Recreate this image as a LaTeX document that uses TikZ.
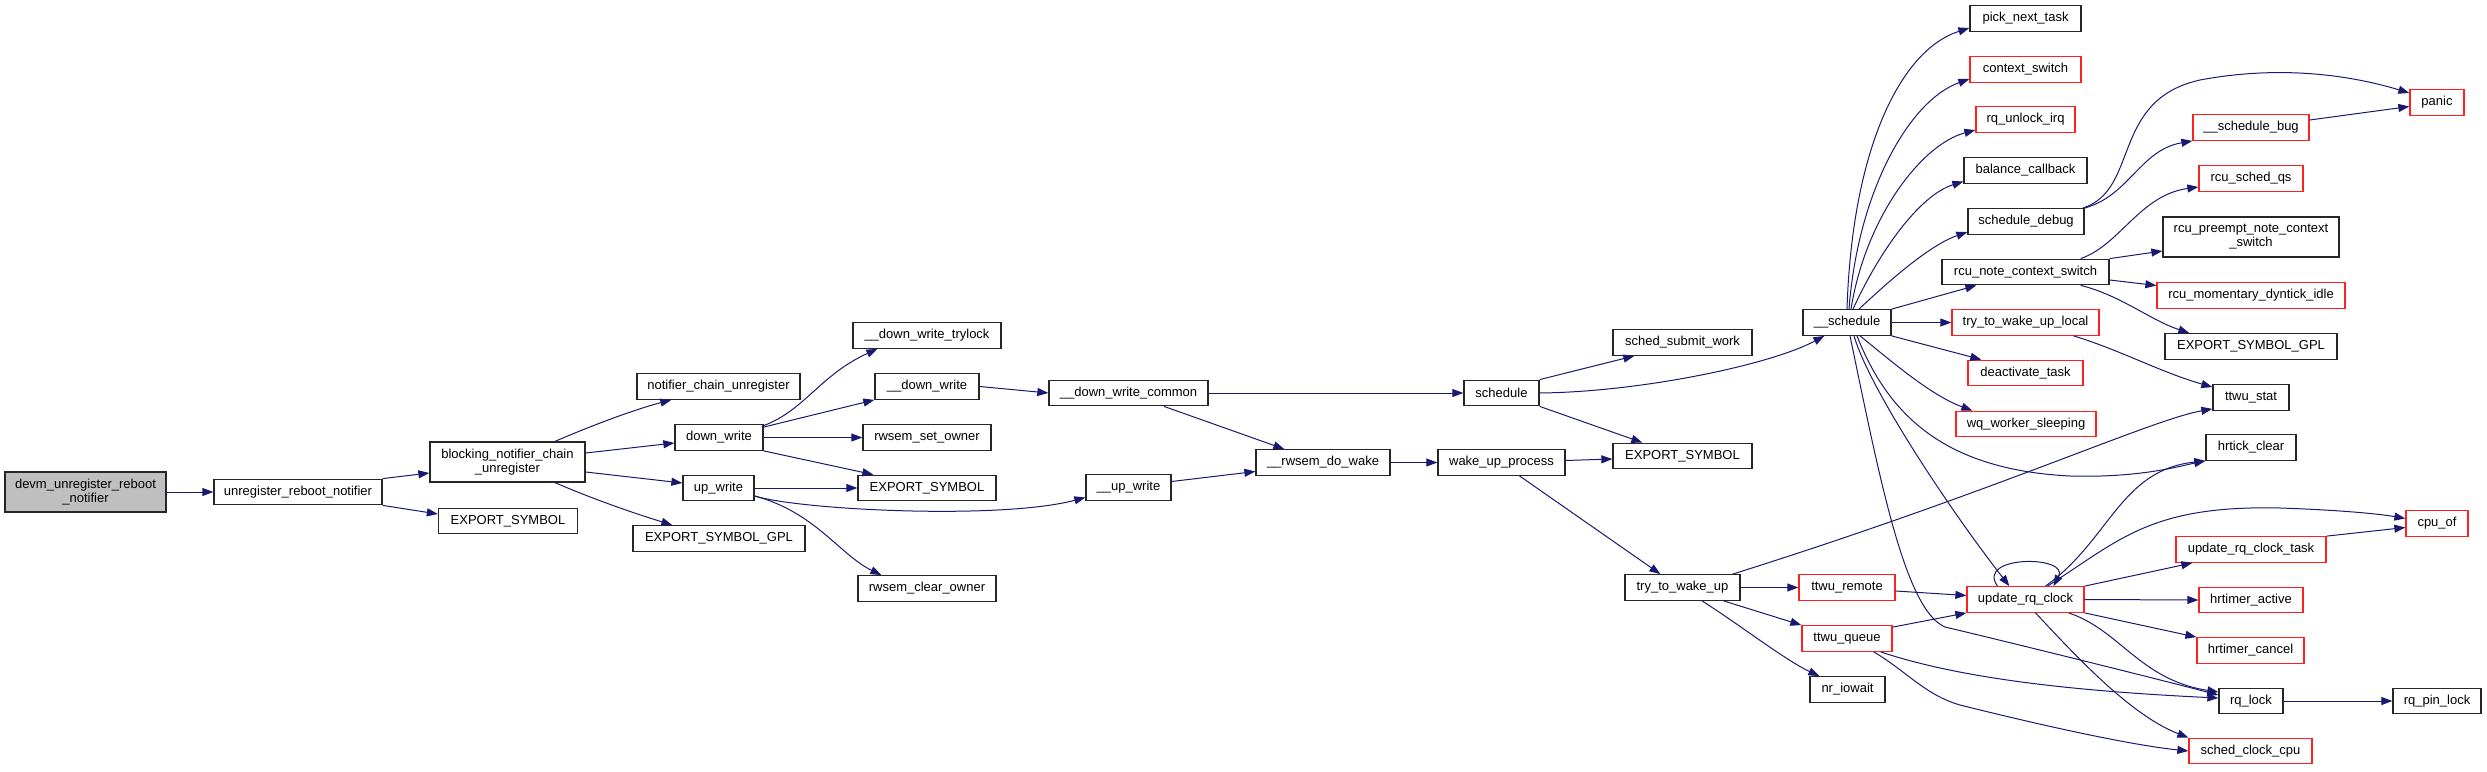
\documentclass[tikz,border=0pt]{standalone}
\usepackage{fontspec}
\setmainfont{Liberation Sans}
\usetikzlibrary{arrows.meta,calc}
\definecolor{edgeblue}{HTML}{191970}
\definecolor{boxred}{HTML}{FF2020}
\definecolor{devmgray}{HTML}{BFBFBF}
\tikzset{
  box/.style={draw=black!85, line width=1.3pt, fill=white, inner sep=0pt,
    minimum height=25.5pt, align=center, font=\fontsize{13}{14}\selectfont},
  redbox/.style={box, draw=boxred},
  edge/.style={draw=edgeblue, line width=1pt, -{Triangle[length=11pt,width=8pt]}}
}
\begin{document}
\begin{tikzpicture}[x=1pt,y=-1pt]
\useasboundingbox (0,0) rectangle (2487,771);
% nodes
\node[box, minimum width=161pt, minimum height=40pt, fill=devmgray] (devm) at (85.5,492) {devm\_unregister\_reboot\\\_notifier};
\node[box, minimum width=168pt] (urn) at (298,492) {unregister\_reboot\_notifier};
\node[box, minimum width=155pt, minimum height=40pt] (bncu) at (507.5,462) {blocking\_notifier\_chain\\\_unregister};
\node[box, minimum width=139pt] (es1) at (508,521) {EXPORT\_SYMBOL};
\node[box, minimum width=163pt] (ncu) at (718.5,386.5) {notifier\_chain\_unregister};
\node[box, minimum width=88pt] (dw) at (719,437.5) {down\_write};
\node[box, minimum width=71pt] (uw) at (718.5,488) {up\_write};
\node[box, minimum width=172pt] (esgpl1) at (719,538.5) {EXPORT\_SYMBOL\_GPL};
\node[box, minimum width=148pt] (dwt) at (927,335.5) {\_\_down\_write\_trylock};
\node[box, minimum width=104pt] (dwu) at (927,386.5) {\_\_down\_write};
\node[box, minimum width=128pt] (rso) at (927,437.5) {rwsem\_set\_owner};
\node[box, minimum width=138pt] (es2) at (927,488) {EXPORT\_SYMBOL};
\node[box, minimum width=138pt] (rco) at (927,588.5) {rwsem\_clear\_owner};
\node[box, minimum width=159pt] (dwc) at (1128.5,393) {\_\_down\_write\_common};
\node[box, minimum width=85pt] (upw) at (1128.5,487.5) {\_\_up\_write};
\node[box, minimum width=134pt] (rdw) at (1323,462.5) {\_\_rwsem\_do\_wake};
\node[box, minimum width=75pt] (sch) at (1501.5,393) {schedule};
\node[box, minimum width=127pt] (wup) at (1501.5,462.5) {wake\_up\_process};
\node[box, minimum width=139pt] (ssw) at (1682.5,342.5) {sched\_submit\_work};
\node[box, minimum width=139pt] (es3) at (1682.5,456) {EXPORT\_SYMBOL};
\node[box, minimum width=115pt] (ttwu) at (1682.5,587.5) {try\_to\_wake\_up};
\node[box, minimum width=88pt] (usch) at (1847,322.5) {\_\_schedule};
\node[redbox, minimum width=96pt] (ttwr) at (1847,587.5) {ttwu\_remote};
\node[redbox, minimum width=90pt] (ttwq) at (1847,638.5) {ttwu\_queue};
\node[box, minimum width=75pt] (nrio) at (1847.5,689.5) {nr\_iowait};
\node[box, minimum width=111pt] (pnt) at (2025.5,18.5) {pick\_next\_task};
\node[redbox, minimum width=111pt] (cs) at (2025.5,69.5) {context\_switch};
\node[redbox, minimum width=99pt] (rui) at (2025.5,119.5) {rq\_unlock\_irq};
\node[box, minimum width=123pt] (bc) at (2025.5,170.5) {balance\_callback};
\node[box, minimum width=116pt] (sd) at (2026,221.5) {schedule\_debug};
\node[box, minimum width=167pt] (rncs) at (2025.5,272) {rcu\_note\_context\_switch};
\node[redbox, minimum width=147pt] (ttwul) at (2025.5,322.5) {try\_to\_wake\_up\_local};
\node[redbox, minimum width=115pt] (dt) at (2025.5,373) {deactivate\_task};
\node[redbox, minimum width=140pt] (wqs) at (2026,424) {wq\_worker\_sleeping};
\node[redbox, minimum width=117pt] (urc) at (2025.5,599.5) {update\_rq\_clock};
\node[redbox, minimum width=54pt] (panic) at (2437,102.5) {panic};
\node[redbox, minimum width=116pt] (sbug) at (2251,127.5) {\_\_schedule\_bug};
\node[redbox, minimum width=104pt] (rsq) at (2251,178.5) {rcu\_sched\_qs};
\node[box, minimum width=176pt, minimum height=40pt] (rpncs) at (2251,237) {rcu\_preempt\_note\_context\\\_switch};
\node[redbox, minimum width=188pt] (rmdi) at (2251,295.5) {rcu\_momentary\_dyntick\_idle};
\node[box, minimum width=172pt] (esgpl2) at (2251,346.5) {EXPORT\_SYMBOL\_GPL};
\node[box, minimum width=76pt] (tstat) at (2251,397.5) {ttwu\_stat};
\node[box, minimum width=90pt] (hcl) at (2251,447.5) {hrtick\_clear};
\node[redbox, minimum width=150pt] (urct) at (2251,549.5) {update\_rq\_clock\_task};
\node[redbox, minimum width=104pt] (hact) at (2251,600) {hrtimer\_active};
\node[redbox, minimum width=107pt] (hcan) at (2250.5,650.5) {hrtimer\_cancel};
\node[box, minimum width=64pt] (rql) at (2251,701) {rq\_lock};
\node[redbox, minimum width=123pt] (scc) at (2250.5,751) {sched\_clock\_cpu};
\node[redbox, minimum width=62pt] (cpuof) at (2437,523.5) {cpu\_of};
\node[box, minimum width=88pt] (rpl) at (2437,701) {rq\_pin\_lock};
% edges
\draw[edge] (devm.east) -- (urn.west);
\draw[edge] (urn.north east) -- ($(bncu.west)+(0,11)$);
\draw[edge] (urn.south east) -- ($(es1.west)+(0,-7)$);
\draw[edge] ($(bncu.north)+(47.5,0)$) .. controls (600,422) and (640,408) .. ($(ncu.south west)+(35,0)$);
\draw[edge] ($(bncu.east)+(0,-9)$) -- ($(dw.west)+(0,5.5)$);
\draw[edge] ($(bncu.east)+(0,10)$) -- ($(uw.west)+(0,-5)$);
\draw[edge] ($(bncu.south)+(47.5,0)$) .. controls (600,502) and (640,515) .. ($(esgpl1.north west)+(40,0)$);
\draw[edge] ($(dw.north east)+(0,1.5)$) .. controls (805,410) and (820,375) .. ($(dwt.south west)+(25,0)$);
\draw[edge] ($(dw.north east)+(0,3)$) -- (dwu.south west);
\draw[edge] (dw.east) -- (rso.west);
\draw[edge] (dw.south east) -- ($(es2.north west)+(16,0)$);
\draw[edge] (uw.east) -- (es2.west);
\draw[edge] ($(uw.east)+(0,8)$) .. controls (800,510) and (1000,520) .. ($(upw.west)+(0,10)$);
\draw[edge] ($(uw.east)+(0,8)$) .. controls (815,512) and (840,555) .. ($(rco.north west)+(24,0)$);
\draw[edge] (dwu.east) -- (dwc.west);
\draw[edge] (dwc.east) -- (sch.west);
\draw[edge] ($(dwc.south)+(35.5,0)$) -- ($(rdw.north west)+(29,0)$);
\draw[edge] ($(upw.east)+(0,-6)$) -- ($(rdw.west)+(0,9)$);
\draw[edge] (rdw.east) -- (wup.west);
\draw[edge] ($(wup.east)+(0,-2)$) -- ($(es3.west)+(0,3)$);
\draw[edge] ($(wup.south)+(18,0)$) -- ($(ttwu.north west)+(36,0)$);
\draw[edge] (sch.north east) -- ($(ssw.south west)+(22,0)$);
\draw[edge] (sch.east) .. controls (1640,392) and (1770,365) .. ($(usch.south west)+(22,0)$);
\draw[edge] (sch.south east) -- ($(es3.north west)+(30,0)$);
\draw[edge] (usch.north) .. controls (1852,150) and (1900,50) .. ($(pnt.west)+(0,9.5)$);
\draw[edge] ($(usch.north)+(2,0)$) .. controls (1858,190) and (1910,100) .. ($(cs.west)+(0,9.5)$);
\draw[edge] ($(usch.north)+(4,0)$) .. controls (1865,220) and (1920,145) .. ($(rui.west)+(0,10.5)$);
\draw[edge] ($(usch.north)+(6,0)$) .. controls (1880,250) and (1920,195) .. ($(bc.west)+(0,11)$);
\draw[edge] ($(usch.north)+(12,0)$) .. controls (1890,280) and (1930,245) .. ($(sd.west)+(0,10.5)$);
\draw[edge] (usch.north east) -- ($(rncs.south west)+(35,0)$);
\draw[edge] (usch.east) -- (ttwul.west);
\draw[edge] (usch.south east) -- ($(dt.north west)+(14,0)$);
\draw[edge] ($(usch.south)+(13,0)$) .. controls (1890,360) and (1930,395) .. ($(wqs.north west)+(17,0)$);
\draw[edge] ($(usch.south)+(10,0)$) .. controls (1890,420) and (1950,470) .. (2070,476) .. controls (2140,478) and (2180,466) .. (hcl.south west);
\draw[edge] ($(usch.south)+(7,0)$) .. controls (1870,390) and (1950,510) .. ($(urc.north west)+(43,0)$);
\draw[edge] ($(usch.south)+(3,0)$) .. controls (1880,480) and (1905,610) .. (1945,627) .. controls (2000,640) and (2150,677) .. ($(rql.west)+(0,-6)$);
\draw[edge] (sd.north east) .. controls (2130,195) and (2140,150) .. (sbug.south west);
\draw[edge] ($(sd.north east)+(-2,0)$) .. controls (2140,190) and (2110,100) .. (2200,80) .. controls (2280,65) and (2350,75) .. ($(panic.west)+(0,-9.5)$);
\draw[edge] ($(sbug.east)+(0,-7.5)$) -- ($(panic.west)+(0,4)$);
\draw[edge] ($(rncs.north east)+(-29,0)$) .. controls (2120,245) and (2140,195) .. ($(rsq.west)+(0,8.5)$);
\draw[edge] (rncs.north east) -- ($(rpncs.west)+(0,14)$);
\draw[edge] ($(rncs.east)+(0,8)$) -- ($(rmdi.west)+(0,-10)$);
\draw[edge] ($(rncs.south east)+(-29,0)$) .. controls (2120,295) and (2150,320) .. ($(esgpl2.north west)+(25,0)$);
\draw[edge] ($(ttwul.south east)+(-26,0)$) .. controls (2120,350) and (2160,372) .. ($(tstat.north west)+(0,3)$);
\draw[edge] ($(ttwu.north east)+(-8,0)$) .. controls (2000,490) and (2150,420) .. ($(tstat.south west)+(0,-2)$);
\draw[edge] (ttwu.east) -- (ttwr.west);
\draw[edge] ($(ttwu.south east)+(-17,0)$) -- (ttwq.north west);
\draw[edge] ($(ttwu.south)+(19.5,0)$) .. controls (1740,625) and (1785,660) .. ($(nrio.north west)+(10,0)$);
\draw[edge] ($(ttwr.east)+(0,3.5)$) -- ($(urc.west)+(0,-4)$);
\draw[edge] ($(ttwq.north east)+(0,2)$) -- (urc.south west);
\draw[edge] ($(ttwq.south east)+(-12,0)$) .. controls (1950,675) and (2050,690) .. ($(rql.west)+(0,-3)$);
\draw[edge] ($(ttwq.south east)+(-19,0)$) .. controls (1905,670) and (1925,695) .. (1960,705) .. controls (2040,725) and (2130,745) .. (scc.west);
\draw[edge] ($(urc.north)+(-28,0)$) .. controls (1975,555) and (2070,555) .. ($(urc.north)+(28,0)$);
\draw[edge] ($(urc.north)+(20,0)$) .. controls (2110,540) and (2120,470) .. (hcl.south west);
\draw[edge] ($(urc.north)+(22,0)$) .. controls (2120,540) and (2150,505) .. (2280,508) .. controls (2340,510) and (2380,514) .. ($(cpuof.west)+(0,-5)$);
\draw[edge] (urc.north east) -- ($(urct.south west)+(17,0)$);
\draw[edge] (urc.east) -- (hact.west);
\draw[edge] (urc.south east) -- (hcan.north west);
\draw[edge] ($(urc.south east)+(-16,0)$) .. controls (2120,630) and (2140,680) .. ($(rql.west)+(0,-9)$);
\draw[edge] ($(urc.south)+(10,0)$) .. controls (2075,655) and (2130,715) .. (scc.north west);
\draw[edge] (urct.north east) -- ($(cpuof.west)+(0,4)$);
\draw[edge] (rql.east) -- (rpl.west);
\end{tikzpicture}
\end{document}
